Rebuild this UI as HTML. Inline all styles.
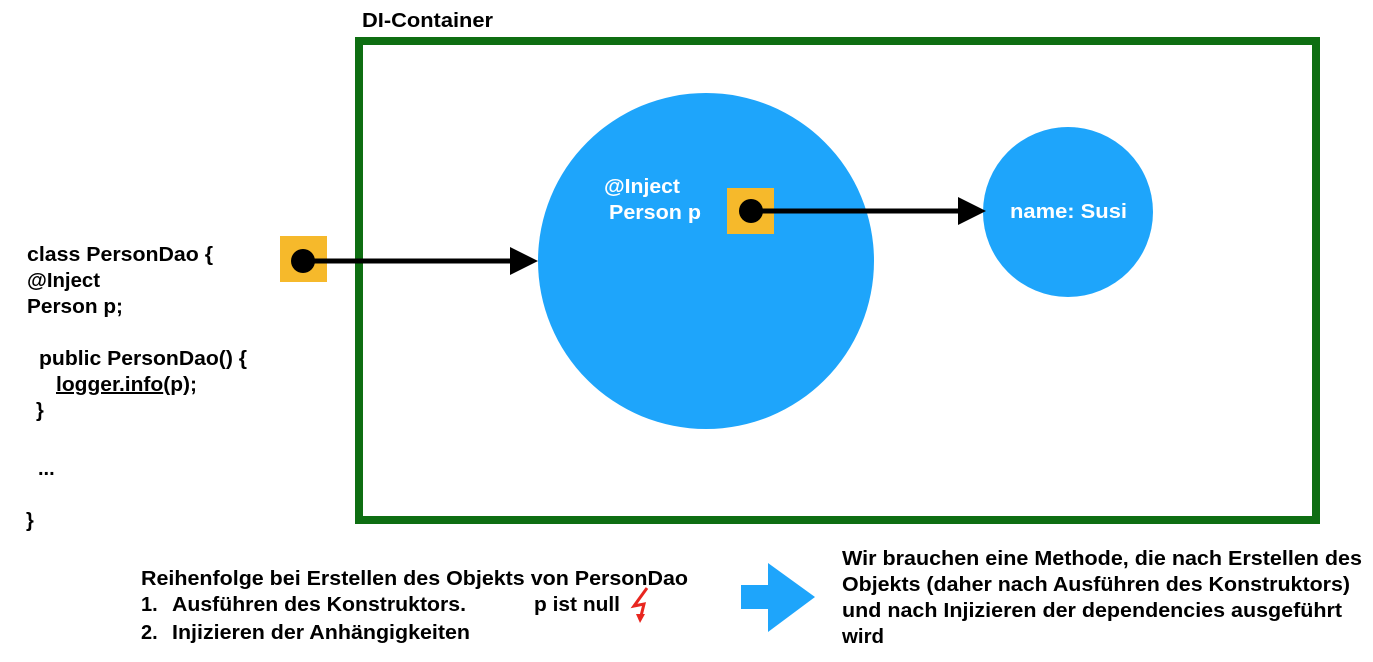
<!DOCTYPE html>
<html><head><meta charset="utf-8"><style>
html,body{margin:0;padding:0;background:#fff;}
svg{display:block;}
text{font-family:"Liberation Sans",Arial,sans-serif;font-weight:bold;font-size:20px;fill:#000;}
.w{fill:#fff;}
</style></head><body>
<svg width="1373" height="662" viewBox="0 0 1373 662" xmlns="http://www.w3.org/2000/svg">
<rect x="359" y="41" width="957" height="479" fill="none" stroke="#0e6e12" stroke-width="8"/>
<text x="362" y="27" textLength="131" lengthAdjust="spacingAndGlyphs">DI-Container</text>
<circle cx="706" cy="261" r="168" fill="#1ea5fb"/>
<circle cx="1068" cy="212" r="85" fill="#1ea5fb"/>
<rect x="280" y="236" width="47" height="46" fill="#f6b92b"/>
<rect x="727" y="188" width="47" height="46" fill="#f6b92b"/>
<line x1="303" y1="261" x2="512" y2="261" stroke="#000" stroke-width="5"/>
<polygon points="510,247 538,261 510,275" fill="#000"/>
<circle cx="303" cy="261" r="12" fill="#000"/>
<line x1="751" y1="211" x2="960" y2="211" stroke="#000" stroke-width="5"/>
<polygon points="958,197 986,211 958,225" fill="#000"/>
<circle cx="751" cy="211" r="12" fill="#000"/>
<text class="w" x="604" y="193" textLength="76" lengthAdjust="spacingAndGlyphs">@Inject</text>
<text class="w" x="609" y="219" textLength="92" lengthAdjust="spacingAndGlyphs">Person p</text>
<text class="w" x="1010" y="218" textLength="117" lengthAdjust="spacingAndGlyphs">name: Susi</text>
<text x="27" y="261" textLength="186" lengthAdjust="spacingAndGlyphs">class PersonDao {</text>
<text x="27" y="287" textLength="73" lengthAdjust="spacingAndGlyphs">@Inject</text>
<text x="27" y="313" textLength="96" lengthAdjust="spacingAndGlyphs">Person p;</text>
<text x="39" y="365" textLength="208" lengthAdjust="spacingAndGlyphs">public PersonDao() {</text>
<text x="56" y="391" textLength="141" lengthAdjust="spacingAndGlyphs"><tspan text-decoration="underline">logger.info</tspan>(p);</text>
<text x="36" y="417">}</text>
<text x="38" y="475">...</text>
<text x="26" y="527">}</text>
<text x="141" y="585" textLength="547" lengthAdjust="spacingAndGlyphs">Reihenfolge bei Erstellen des Objekts von PersonDao</text>
<text x="141" y="611">1.</text>
<text x="172" y="611" textLength="294" lengthAdjust="spacingAndGlyphs">Ausführen des Konstruktors.</text>
<text x="534" y="611" textLength="86" lengthAdjust="spacingAndGlyphs">p ist null</text>
<text x="141" y="639">2.</text>
<text x="172" y="639" textLength="298" lengthAdjust="spacingAndGlyphs">Injizieren der Anhängigkeiten</text>
<polyline points="647,588 634,606 644,604 640,620" fill="none" stroke="#e8261f" stroke-width="3"/>
<polygon points="636,614 640,623 645,614" fill="#e8261f"/>
<polygon points="741,585 768,585 768,563 815,597 768,632 768,609 741,609" fill="#1ea5fb"/>
<text x="842" y="565" textLength="520" lengthAdjust="spacingAndGlyphs">Wir brauchen eine Methode, die nach Erstellen des</text>
<text x="842" y="591" textLength="508" lengthAdjust="spacingAndGlyphs">Objekts (daher nach Ausführen des Konstruktors)</text>
<text x="842" y="617" textLength="500" lengthAdjust="spacingAndGlyphs">und nach Injizieren der dependencies ausgeführt</text>
<text x="842" y="643" textLength="42" lengthAdjust="spacingAndGlyphs">wird</text>
</svg>
</body></html>
